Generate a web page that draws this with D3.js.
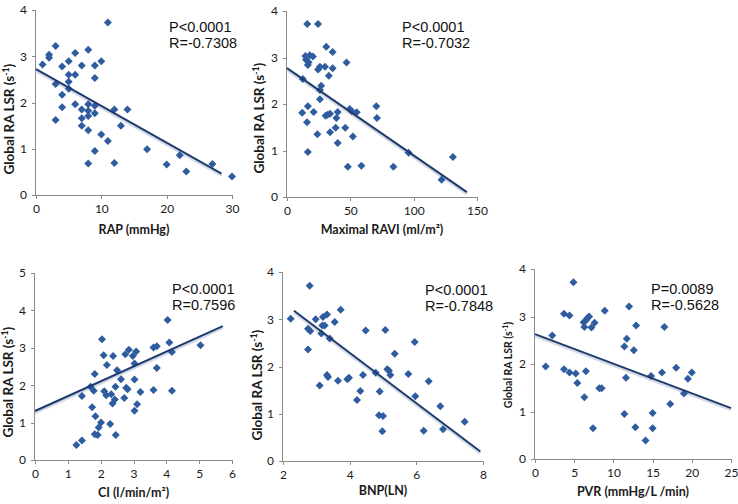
<!DOCTYPE html>
<html><head><meta charset="utf-8">
<script src="https://cdn.jsdelivr.net/npm/d3@7"></script>
<style>
body{margin:0;background:#fff;}
svg{display:block;}
</style></head>
<body>
<svg id="c" width="738" height="504"></svg>
<script>
// ---------- DATA ----------
const yTitle = "Global RA LSR (s";
const yTitleSup = "-1";

const rapX = [1,2,2,3,3,3,4,4,4,5,5,5,5,6,6,6,7,7,7,7,8,8,8,8,8,8,9,9,9,9,9,10,10,11,11,12,12,13,14,17,20,22,23,27,30];
const rapY = [2.82,3.03,2.97,3.22,2.4,1.62,2.78,2.17,1.9,2.89,2.6,2.45,2.3,3.07,2.6,1.96,2.8,1.85,1.66,1.5,3.14,1.96,1.82,1.71,1.4,0.68,2.8,2.53,1.93,1.77,0.95,2.89,1.31,3.73,1.17,1.85,0.69,1.5,1.85,0.99,0.66,0.86,0.51,0.67,0.4];
const rapFitX = [0, 28.4], rapFitY = [2.72, 0.46];
const rapStats = ["P<0.0001", "R=-0.7308"];
const rapTicksX = [0,10,20,30], rapTicksY = [0,1,2,3,4];

const raviX = [16,24.5,31,36,14.5,18,20.5,15,16.5,17,47,24.5,26,36,30,12.5,33,27,26,26,16.5,12,21,32,34,30.5,40,39,15.8,38.4,34,24,46,49.5,51,55,52,40,16.5,48,58.7,70.5,71,84,96,131,122];
const raviY = [3.72,3.72,3.23,3.12,3.03,3.05,3.02,2.95,2.84,2.9,2.89,2.74,2.8,2.77,2.8,2.54,2.61,2.39,2.3,2.1,1.95,1.81,1.83,1.77,1.79,1.75,1.83,1.7,1.61,1.49,1.39,1.35,1.49,1.89,1.85,1.82,1.3,1.16,0.97,0.65,0.67,1.95,1.7,0.65,0.95,0.86,0.37];
const raviFitX = [0, 142], raviFitY = [2.77, 0.105];
const raviStats = ["P<0.0001", "R=-0.7032"];
const raviTicksX = [0,50,100,150], raviTicksY = [0,1,2,3,4];

const ciX = [1.26,1.43,1.43,1.74,1.69,1.79,1.82,1.84,1.82,1.91,1.94,2.01,2.04,2.09,2.11,2.17,2.19,2.29,2.32,2.36,2.38,2.43,2.45,2.46,2.5,2.62,2.72,2.75,2.78,2.82,2.86,2.98,3.03,3.03,3.03,3.08,3.11,3.21,3.61,3.61,3.71,3.71,4.04,4.09,4.17,4.17,5.04];
const ciY = [0.4,0.52,1.71,1.41,1.96,1.85,2.3,1.17,0.69,0.67,0.87,1.0,3.23,2.8,1.84,1.73,2.54,0.96,1.76,1.51,2.78,1.62,1.96,0.67,2.4,2.16,1.66,2.83,1.93,1.89,2.95,2.78,2.58,2.15,1.32,2.9,1.49,1.82,3.01,1.87,3.04,2.46,3.74,3.14,2.89,1.85,3.07];
const ciFitX = [0, 5.72], ciFitY = [1.31, 3.58];
const ciStats = ["P<0.0001", "R=0.7596"];
const ciTicksX = [0,1,2,3,4,5,6], ciTicksY = [0,1,2,3,4,5];

const bnpX = [2.23,2.8,2.75,2.82,2.75,2.98,3.2,3.32,3.18,3.25,3.15,3.4,3.55,3.73,3.1,3.32,3.35,3.65,3.93,3.98,4.22,4.32,4.4,4.48,4.78,4.9,4.88,5.0,4.98,5.07,5.13,5.18,5.22,5.35,5.76,5.97,5.95,6.22,6.37,6.72,6.8,7.45];
const bnpY = [3.01,3.71,2.8,2.75,2.36,3.0,3.05,3.1,2.87,2.87,2.7,2.59,2.94,3.2,1.6,1.82,1.78,1.7,1.73,1.76,1.29,1.48,1.82,2.76,1.87,1.47,0.97,0.95,0.63,2.77,1.94,1.91,1.82,2.27,1.84,1.37,2.52,0.64,1.69,1.16,0.67,0.83];
const bnpFitX = [2.33, 7.92], bnpFitY = [3.18, 0.2];
const bnpStats = ["P<0.0001", "R=-0.7848"];
const bnpTicksX = [2,4,6,8], bnpTicksY = [0,1,2,3,4];

const pvrX = [1.36,2.2,3.7,4.4,3.7,4.4,5.2,5.4,4.9,6.2,6.3,6.5,6.7,6.9,7.2,7.6,6.5,6.3,7.4,8.2,8.5,8.9,12.0,11.4,11.7,12.9,12.6,11.6,11.4,12.8,14.1,14.8,15.0,15.0,16.5,16.2,18.0,17.25,19.0,19.5,20.0];
const pvrY = [1.95,2.6,3.06,3.02,1.89,1.82,1.8,1.6,3.72,2.88,2.78,2.92,2.97,3.0,2.77,2.87,1.85,1.3,0.65,1.49,1.49,3.12,3.21,2.37,2.53,2.81,2.29,1.71,0.95,0.67,0.39,1.75,0.97,0.65,2.78,1.82,1.92,1.16,1.38,1.69,1.82];
const pvrFitX = [0, 25], pvrFitY = [2.63, 1.07];
const pvrStats = ["P=0.0089", "R=-0.5628"];
const pvrTicksX = [0,5,10,15,20,25], pvrTicksY = [0,1,2,3,4];

// ---------- LAYOUT ----------
const panels = [
  {xs:rapX, ys:rapY, fx:rapFitX, fy:rapFitY, stats:rapStats, tx:rapTicksX, ty:rapTicksY,
   xt:"RAP (mmHg)", L:36,R:232,B:195,T:10, sx:169, sy:32, sdy:16, ytx:9, yty:119, yfs:13.5, xty:231},
  {xs:raviX, ys:raviY, fx:raviFitX, fy:raviFitY, stats:raviStats, tx:raviTicksX, ty:raviTicksY,
   xt:"Maximal RAVI (ml/m²)", L:287,R:477,B:197,T:11, sx:402, sy:32, sdy:16, ytx:259, yty:118, yfs:13.5, xty:231},
  {xs:ciX, ys:ciY, fx:ciFitX, fy:ciFitY, stats:ciStats, tx:ciTicksX, ty:ciTicksY,
   xt:"CI (l/min/m²)", L:35,R:232,B:460,T:273, sx:172, sy:294, sdy:16, ytx:8, yty:382, yfs:13.5, xty:494},
  {xs:bnpX, ys:bnpY, fx:bnpFitX, fy:bnpFitY, stats:bnpStats, tx:bnpTicksX, ty:bnpTicksY,
   xt:"BNP(LN)", L:283,R:483,B:461,T:272, sx:425, sy:295, sdy:16, ytx:257, yty:385, yfs:13.5, xty:492},
  {xs:pvrX, ys:pvrY, fx:pvrFitX, fy:pvrFitY, stats:pvrStats, tx:pvrTicksX, ty:pvrTicksY,
   xt:"PVR (mmHg/L /min)", L:535,R:731,B:459,T:269, sx:651, sy:294, sdy:16, ytx:508, yty:365, yfs:10.5, xty:493}
];

const svg = d3.select("#c");
const axisColor = "#8a8a8a";
const markColor = "#2f5c9f";
const lineColor = "#1e3a6d";
const tickFont = "Lato, 'Open Sans', sans-serif";
const diamond = d3.symbol(d3.symbolSquare, 32);

panels.forEach(p => {
  const xDom = [p.tx[0], p.tx[p.tx.length-1]];
  const yDom = [p.ty[0], p.ty[p.ty.length-1]];
  const x = d3.scaleLinear().domain(xDom).range([p.L, p.R]);
  const y = d3.scaleLinear().domain(yDom).range([p.B, p.T]);
  const g = svg.append("g");

  const xa = g.append("g").attr("transform", `translate(0,${p.B})`)
    .call(d3.axisBottom(x).tickValues(p.tx).tickSize(4).tickPadding(5).tickFormat(d3.format("d")));
  const ya = g.append("g").attr("transform", `translate(${p.L},0)`)
    .call(d3.axisLeft(y).tickValues(p.ty).tickSize(4).tickPadding(5).tickFormat(d3.format("d")));
  [xa, ya].forEach(a => {
    a.selectAll("path,line").attr("stroke", axisColor).attr("shape-rendering","crispEdges");
    a.selectAll("text").attr("fill","#1a1a1a").style("font-family", tickFont).style("font-size","12px");
  });
  xa.select(".domain").attr("d", `M${p.L},0.5H${p.R}`);
  ya.select(".domain").attr("d", `M-0.5,${p.B}V${p.T}`);

  // regression line shadow and line
  const lineData = p.fx.map((v,i) => [v, p.fy[i]]);
  const lg = d3.line().x(d => x(d[0])).y(d => y(d[1]));
  g.append("path").datum(lineData).attr("d", lg)
    .attr("transform","translate(0,2)")
    .attr("stroke","#c9d0de").attr("stroke-width",2.5).attr("fill","none").attr("opacity",0.8);

  // points
  g.append("g").selectAll("path").data(p.xs.map((v,i)=>[v,p.ys[i]])).join("path")
    .attr("d", diamond)
    .attr("transform", d => `translate(${x(d[0])},${y(d[1])}) rotate(45)`)
    .attr("fill", markColor);

  g.append("path").datum(lineData).attr("d", lg)
    .attr("stroke", lineColor).attr("stroke-width",2).attr("fill","none");

  // stats text
  p.stats.forEach((s,i) => {
    g.append("text").attr("x", p.sx).attr("y", p.sy + i*p.sdy)
      .style("font-family","'Liberation Sans', Arial, sans-serif").style("font-size","14.5px")
      .attr("fill","#111").text(s);
  });

  // x title
  g.append("text").attr("x", (p.L+p.R)/2).attr("y", p.xty).attr("text-anchor","middle")
    .attr("dominant-baseline","middle")
    .style("font-family", tickFont).style("font-weight","bold").style("font-size","12.5px")
    .attr("fill","#1a1a1a").text(p.xt);

  // y title (measured and centred)
  const yt = g.append("text")
    .style("font-family", tickFont).style("font-weight","bold").style("font-size", p.yfs+"px")
    .attr("fill","#1a1a1a");
  yt.append("tspan").text(yTitle);
  yt.append("tspan").attr("dy", -p.yfs*0.35).style("font-size", (p.yfs*0.65)+"px").text(yTitleSup);
  yt.append("tspan").attr("dy", p.yfs*0.35).text(")");
  const w = yt.node().getBBox().width;
  yt.attr("transform", `translate(${p.ytx + p.yfs*0.36},${p.yty + w/2}) rotate(-90)`);
});
</script>
</body></html>
